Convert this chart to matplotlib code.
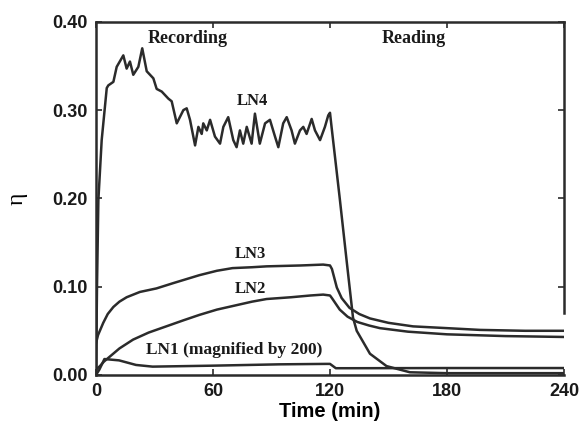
import numpy as np
import matplotlib.pyplot as plt

# === 数据 ===
t_ln4 = [0, 0.5, 1.2, 2.9, 5.5, 6.3, 8.9, 10.6, 14, 15.7, 17.4, 19.1, 21.7, 23.7, 26,
         29.4, 31.1, 33.7, 37.1, 38.8, 41.4, 44.8, 46.5, 48.2, 50.8, 52.5, 54.2, 55,
         56.8, 58.5, 61, 63.6, 65.3, 67.8, 70.4, 72.1, 73.8, 75.5, 77.3, 79.8, 81.5,
         84, 86.7, 89.2, 91.8, 93.5, 96, 97.8, 100.3, 102, 104.6, 106.3, 108, 110.6,
         112.3, 114.9, 117.4, 119.1, 120, 120.8, 125, 128.5, 131.8, 133.7, 140.5, 149,
         161, 180, 240]
eta_ln4 = [0, 0.10, 0.198, 0.266, 0.325, 0.328, 0.332, 0.349, 0.362, 0.347, 0.355, 0.340,
           0.349, 0.370, 0.344, 0.336, 0.324, 0.321, 0.313, 0.310, 0.285, 0.300, 0.302,
           0.289, 0.260, 0.281, 0.273, 0.285, 0.277, 0.289, 0.270, 0.262, 0.281, 0.292,
           0.266, 0.258, 0.277, 0.262, 0.281, 0.262, 0.296, 0.262, 0.285, 0.289, 0.270,
           0.258, 0.285, 0.292, 0.277, 0.262, 0.277, 0.281, 0.273, 0.290, 0.277, 0.266,
           0.281, 0.294, 0.297, 0.281, 0.200, 0.130, 0.065, 0.050, 0.024, 0.010, 0.003,
           0.002, 0.002]

t_ln3 = [0, 1, 3.7, 6, 8.9, 12, 15.7, 22.5, 31, 39.6, 53, 62, 70, 80, 87.5, 105, 116.5,
         120, 121, 123.5, 126, 130, 135, 140.5, 150, 162.6, 180, 197, 220, 240]
eta_ln3 = [0.036, 0.045, 0.059, 0.069, 0.077, 0.083, 0.088, 0.094, 0.098, 0.104, 0.113,
           0.118, 0.121, 0.122, 0.123, 0.124, 0.125, 0.124, 0.120, 0.099, 0.087, 0.076,
           0.069, 0.064, 0.059, 0.055, 0.053, 0.051, 0.050, 0.050]

t_ln2 = [0, 2, 4, 7.2, 12, 19, 27, 36, 45, 53, 62, 70, 80, 87.5, 100, 110, 116.5, 120,
         121, 125, 129, 134, 140, 145.6, 160, 180, 210, 240]
eta_ln2 = [0.006, 0.010, 0.015, 0.021, 0.030, 0.040, 0.048, 0.055, 0.062, 0.068, 0.074,
           0.078, 0.083, 0.086, 0.088, 0.090, 0.091, 0.090, 0.087, 0.074, 0.066, 0.060,
           0.056, 0.053, 0.049, 0.046, 0.044, 0.043]

t_ln1 = [0, 1.7, 4.3, 11.8, 20.5, 29, 60, 94, 118, 120, 123, 130, 180, 240]
eta_ln1 = [0.0, 0.006, 0.018, 0.0165, 0.0113, 0.0094, 0.0105, 0.012, 0.0125, 0.0125,
           0.0076, 0.0076, 0.0078, 0.0078]

x_ticks = [0, 60, 120, 180, 240]
y_ticks = [0.00, 0.10, 0.20, 0.30, 0.40]

line_color = '#2b2b2b'
serif = ['Liberation Serif', 'DejaVu Serif']
sans = ['Liberation Sans', 'DejaVu Sans']

fig = plt.figure(figsize=(5.82, 4.28), dpi=100)
ax = fig.add_axes([0.165, 0.124, 0.804, 0.825])

for t, e in [(t_ln4, eta_ln4), (t_ln3, eta_ln3), (t_ln2, eta_ln2), (t_ln1, eta_ln1)]:
    ax.plot(t, e, color=line_color, lw=1.8)

ax.set_xlim(0, 240)
ax.set_ylim(0, 0.40)
ax.set_xticks(x_ticks)
ax.set_yticks(y_ticks)
ax.set_xticklabels([str(v) for v in x_ticks], fontfamily=sans, fontweight='bold', fontsize=13)
ax.set_yticklabels([f"{v:.2f}" for v in y_ticks], fontfamily=sans, fontweight='bold', fontsize=13)
ax.tick_params(direction='in', length=4, width=1.2, top=True, right=True,
               colors=line_color, labelcolor='#1a1a1a', pad=6)

for s in ax.spines.values():
    s.set_linewidth(1.8)
    s.set_color(line_color)
ax.spines['right'].set_bounds(0.07, 0.40)

ax.set_xlabel("Time (min)", fontfamily=sans, fontweight='bold', fontsize=14.5, labelpad=1)
ax.set_ylabel("η", fontfamily=serif, fontsize=17, labelpad=18)

# 标注文字
txt = dict(fontfamily=serif, fontweight='bold', color='#1a1a1a', ha='center', va='center')
ax.text(47, 0.381, "Recording", fontsize=13, **txt)
ax.text(163, 0.381, "Reading", fontsize=13, **txt)
ax.text(80, 0.310, "LN4", fontsize=12, **txt)
ax.text(79, 0.137, "LN3", fontsize=12, **txt)
ax.text(79, 0.097, "LN2", fontsize=12, **txt)
ax.text(71, 0.028, "LN1 (magnified by 200)", fontsize=12.5, **txt)

fig.savefig("out.png", dpi=100)
